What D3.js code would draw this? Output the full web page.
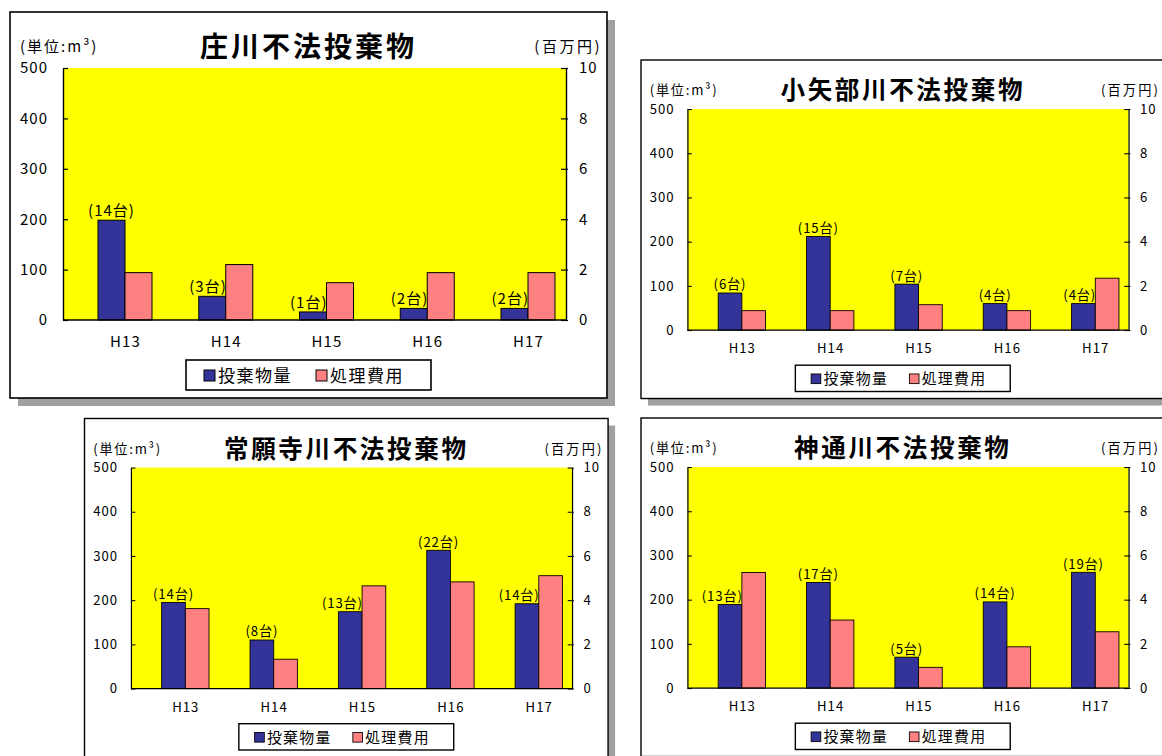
<!DOCTYPE html>
<html>
<head>
<meta charset="utf-8">
<script src="https://cdn.jsdelivr.net/npm/d3@7"></script>
<style>
  html, body { margin: 0; padding: 0; background: #fff; }
  svg { display: block; font-family: "Noto Sans CJK JP", "Noto Sans", sans-serif; }
</style>
</head>
<body>
<svg id="chart" width="1162" height="756"></svg>
<script>
// Fiscal years on the category axis
const years = ["H13", "H14", "H15", "H16", "H17"];
// Tick values: left axis (m³) and right axis (million yen)
const volumeTicks = [0, 100, 200, 300, 400, 500];
const costTicks = [0, 2, 4, 6, 8, 10];
const seriesNames = ["投棄物量", "処理費用"];
const volumeUnit = "(単位:m³)";
const costUnit = "(百万円)";

// 庄川
const shokawaTitle = "庄川不法投棄物";
const shokawaVolume = [198, 47, 16, 23, 23];
const shokawaCost = [1.88, 2.2, 1.48, 1.88, 1.88];
const shokawaTrucks = [14, 3, 1, 2, 2];

// 小矢部川
const oyabeTitle = "小矢部川不法投棄物";
const oyabeVolume = [84, 212, 104, 60, 60];
const oyabeCost = [0.88, 0.88, 1.15, 0.88, 2.35];
const oyabeTrucks = [6, 15, 7, 4, 4];

// 常願寺川
const joganjiTitle = "常願寺川不法投棄物";
const joganjiVolume = [195, 110, 174, 313, 192];
const joganjiCost = [3.62, 1.33, 4.65, 4.83, 5.11];
const joganjiTrucks = [14, 8, 13, 22, 14];

// 神通川
const jinzuTitle = "神通川不法投棄物";
const jinzuVolume = [189, 239, 70, 195, 262];
const jinzuCost = [5.23, 3.08, 0.94, 1.87, 2.55];
const jinzuTrucks = [13, 17, 5, 14, 19];

const COLORS = { volume: "#333399", cost: "#ff8080", plot: "#ffff00", shadow: "#a0a0a0" };

// Each panel is drawn in a common frame, then placed and scaled.
const FRAME = { w: 597, h: 386 };
const PLOT = { l: 53, t: 56, r: 556, b: 308 };
const BAR_W = 27;

const panels = [
  { title: shokawaTitle, volume: shokawaVolume, cost: shokawaCost, trucks: shokawaTrucks, x: 10, y: 12, k: 1 },
  { title: oyabeTitle, volume: oyabeVolume, cost: oyabeCost, trucks: oyabeTrucks, x: 641, y: 60, k: 0.877 },
  { title: joganjiTitle, volume: joganjiVolume, cost: joganjiCost, trucks: joganjiTrucks, x: 84.5, y: 418.5, k: 0.877 },
  { title: jinzuTitle, volume: jinzuVolume, cost: jinzuCost, trucks: jinzuTrucks, x: 641, y: 418, k: 0.877 }
];

const svg = d3.select("#chart");

function drawPanel(p) {
  const g = svg.append("g").attr("transform", `translate(${p.x},${p.y}) scale(${p.k})`);

  // drop shadow and frame
  g.append("rect").attr("x", 8).attr("y", 8).attr("width", FRAME.w).attr("height", FRAME.h)
    .attr("fill", COLORS.shadow);
  g.append("rect").attr("x", 0).attr("y", 0).attr("width", FRAME.w).attr("height", FRAME.h)
    .attr("fill", "#fff").attr("stroke", "#000").attr("stroke-width", 1.6);

  const x = d3.scalePoint().domain(years).range([PLOT.l + 62, PLOT.l + 465]);
  const yL = d3.scaleLinear().domain([0, 500]).range([PLOT.b, PLOT.t]);
  const yR = d3.scaleLinear().domain([0, 10]).range([PLOT.b, PLOT.t]);

  // plot background
  g.append("rect").attr("x", PLOT.l).attr("y", PLOT.t)
    .attr("width", PLOT.r - PLOT.l).attr("height", PLOT.b - PLOT.t)
    .attr("fill", COLORS.plot);

  const rows = years.map((c, i) => ({ c, v: p.volume[i], m: p.cost[i], n: p.trucks[i] }));

  // volume bars (left axis)
  g.selectAll("rect.vol").data(rows).join("rect").attr("class", "vol")
    .attr("x", d => x(d.c) - BAR_W).attr("y", d => yL(d.v))
    .attr("width", BAR_W).attr("height", d => yL(0) - yL(d.v))
    .attr("fill", COLORS.volume).attr("stroke", "#000").attr("stroke-width", 1);

  // cost bars (right axis)
  g.selectAll("rect.cost").data(rows).join("rect").attr("class", "cost")
    .attr("x", d => x(d.c)).attr("y", d => yR(d.m))
    .attr("width", BAR_W).attr("height", d => yR(0) - yR(d.m))
    .attr("fill", COLORS.cost).attr("stroke", "#000").attr("stroke-width", 1);

  // truck-count labels above the volume bars; moved clear of a taller cost bar
  g.selectAll("text.count").data(rows).join("text").attr("class", "count")
    .attr("x", d => (yR(d.m) < yL(d.v)) ? x(d.c) + 1 : x(d.c) - BAR_W / 2)
    .attr("y", d => yL(d.v) - 4)
    .attr("text-anchor", d => (yR(d.m) < yL(d.v)) ? "end" : "middle")
    .attr("font-size", 15).attr("letter-spacing", 1).attr("fill", "#000")
    .text(d => `(${d.n}台)`);

  // left axis
  const axL = g.append("g").attr("transform", `translate(${PLOT.l},0)`)
    .call(d3.axisLeft(yL).tickValues(volumeTicks).tickSizeInner(-5).tickSizeOuter(0).tickPadding(15));
  // right axis
  const axR = g.append("g").attr("transform", `translate(${PLOT.r},0)`)
    .call(d3.axisRight(yR).tickValues(costTicks).tickSizeInner(-5).tickSizeOuter(0).tickPadding(13));
  axR.selectAll(".tick line").attr("x1", 2);
  // category axis
  const axB = g.append("g").attr("transform", `translate(0,${PLOT.b})`)
    .call(d3.axisBottom(x).tickSize(0).tickPadding(16));
  axB.select(".domain").remove();
  g.append("line").attr("x1", PLOT.l).attr("x2", PLOT.r).attr("y1", PLOT.b).attr("y2", PLOT.b)
    .attr("stroke", "#000").attr("stroke-width", 1.4);

  [axL, axR, axB].forEach(a => {
    a.attr("font-family", null).attr("font-size", null);
    a.selectAll(".domain").attr("stroke", "#000").attr("stroke-width", 1.4);
    a.selectAll(".tick line").attr("stroke", "#000").attr("stroke-width", 1.2);
    a.selectAll("text").attr("fill", "#000").attr("font-size", 15).attr("letter-spacing", 1);
  });
  axB.selectAll("text").attr("font-size", 15).attr("letter-spacing", 1.2);

  // titles and unit captions
  g.append("text").attr("x", FRAME.w / 2).attr("y", 45).attr("text-anchor", "middle")
    .attr("font-size", 28).attr("font-weight", "bold").attr("letter-spacing", 3)
    .text(p.title);
  g.append("text").attr("x", 10).attr("y", 40).attr("font-size", 15).attr("letter-spacing", 2)
    .text(volumeUnit);
  g.append("text").attr("x", 592).attr("y", 40).attr("text-anchor", "end")
    .attr("font-size", 15).attr("letter-spacing", 2.5).text(costUnit);

  // legend
  const lg = g.append("g").attr("transform", "translate(176,348)");
  lg.append("rect").attr("width", 245).attr("height", 30)
    .attr("fill", "#fff").attr("stroke", "#000").attr("stroke-width", 1.6);
  const items = [
    { name: seriesNames[0], color: COLORS.volume, x: 18 },
    { name: seriesNames[1], color: COLORS.cost, x: 130 }
  ];
  items.forEach(it => {
    lg.append("rect").attr("x", it.x).attr("y", 10).attr("width", 11).attr("height", 11)
      .attr("fill", it.color).attr("stroke", "#000").attr("stroke-width", 1);
    lg.append("text").attr("x", it.x + 14).attr("y", 22).attr("font-size", 17)
      .attr("letter-spacing", 1.5).text(it.name);
  });
}

panels.forEach(drawPanel);
</script>
</body>
</html>
